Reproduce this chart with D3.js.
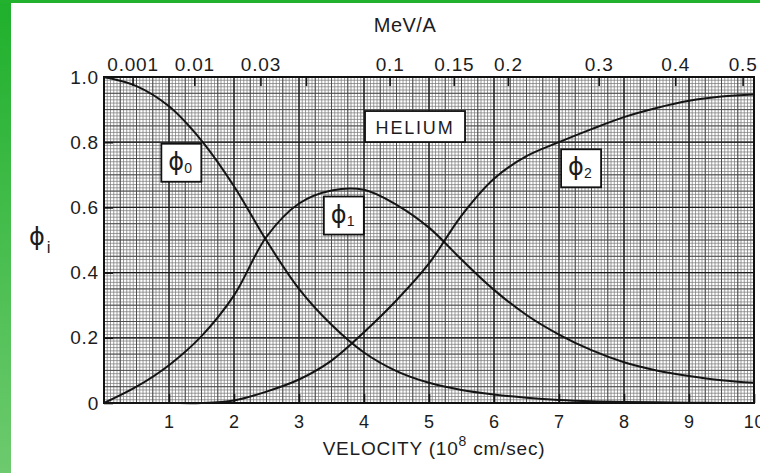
<!DOCTYPE html>
<html>
<head>
<meta charset="utf-8">
<title>Helium charge state fractions</title>
<script src="https://cdn.jsdelivr.net/npm/d3@7"></script>
<style>
    body { margin: 0; background: #fff; }
    svg text { font-family: "Liberation Sans", Arial, sans-serif; fill: #1c1c1c; }
    .axis path.domain { display: none; }
    .axis line { stroke: #151515; stroke-width: 1.6; }
    .phi { font-family: "DejaVu Sans", sans-serif; }
</style>
</head>
<body>
<script>
    // velocity in 10^8 cm/sec, fractions
    var velocity = [0, 0.5, 1, 1.5, 2, 2.5, 3, 3.5, 4, 4.5, 5, 5.5, 6, 6.5, 7, 7.5, 8, 8.5, 9, 9.5, 10];
    var phi0 = [1.0, 0.972, 0.91, 0.805, 0.665, 0.498, 0.35, 0.24, 0.155, 0.098, 0.062, 0.04, 0.026, 0.016, 0.009, 0.005, 0.003, 0.002, 0.001, 0, 0];
    var phi1 = [0, 0.05, 0.116, 0.205, 0.33, 0.51, 0.612, 0.652, 0.654, 0.608, 0.538, 0.44, 0.347, 0.27, 0.21, 0.162, 0.125, 0.1, 0.083, 0.07, 0.062];
    var phi2 = [0, 0, 0, 0, 0.008, 0.035, 0.072, 0.13, 0.217, 0.315, 0.428, 0.575, 0.688, 0.757, 0.8, 0.84, 0.877, 0.905, 0.927, 0.94, 0.946];

    var velocityTicks = [1, 2, 3, 4, 5, 6, 7, 8, 9, 10];
    var phiTicks = [0, 0.2, 0.4, 0.6, 0.8, 1.0];
    var phiTickLabels = ["0", "0.2", "0.4", "0.6", "0.8", "1.0"];
    var energyTicks = [0.001, 0.01, 0.03, 0.05, 0.1, 0.15, 0.2, 0.3, 0.4, 0.5];
    var energyTickLabels = ["0.001", "0.01", "0.03", "", "0.1", "0.15", "0.2", "0.3", "0.4", "0.5"];

    // boxed labels, anchored in data units
    var curveLabels = [
        { sub: "0", v: 1.19, phi: 0.737 },
        { sub: "1", v: 3.69, phi: 0.575 },
        { sub: "2", v: 7.34, phi: 0.72 }
    ];
    var elementLabel = { text: "HELIUM", v: 4.785, phi: 0.848 };

    // MeV per nucleon for v = 1 (10^8 cm/s)
    var k = 0.00518;

    var _width = 760, _height = 473,
        _margins = { left: 104, top: 77, right: 6, bottom: 70 };

    function xStart() { return _margins.left; }
    function xEnd() { return _width - _margins.right; }
    function yStart() { return _height - _margins.bottom; }
    function yEnd() { return _margins.top; }

    var svg = d3.select('body').append('svg')
        .attr('width', _width)
        .attr('height', _height);

    // green frame of the scan
    var grad = svg.append('defs').append('linearGradient')
        .attr('id', 'frame').attr('x1', 0).attr('y1', 0).attr('x2', 0).attr('y2', 1);
    grad.append('stop').attr('offset', '0%').attr('stop-color', '#1fb02c');
    grad.append('stop').attr('offset', '100%').attr('stop-color', '#6dca6e');
    svg.append('rect').attr('x', 0).attr('y', 0).attr('width', 11).attr('height', _height).attr('fill', 'url(#frame)');
    svg.append('rect').attr('x', 0).attr('y', 0).attr('width', _width).attr('height', 3).attr('fill', '#22b22e');

    var x = d3.scaleLinear().domain([0, 10]).range([xStart(), xEnd()]);
    var y = d3.scaleLinear().domain([0, 1]).range([yStart(), yEnd()]);
    var e = d3.scaleSqrt().domain([0, 100 * k]).range([xStart(), xEnd()]);

    // graph paper
    var paper = svg.append('g').attr('class', 'paper');
    function gridLines(cls, xs, ys, color, w) {
        var g = paper.append('g').attr('class', cls);
        g.selectAll('line.v').data(xs).enter().append('line')
            .attr('class', 'v')
            .attr('x1', function (d) { return x(d); }).attr('x2', function (d) { return x(d); })
            .attr('y1', y(0)).attr('y2', y(1))
            .attr('stroke', color).attr('stroke-width', w);
        g.selectAll('line.h').data(ys).enter().append('line')
            .attr('class', 'h')
            .attr('y1', function (d) { return y(d); }).attr('y2', function (d) { return y(d); })
            .attr('x1', x(0)).attr('x2', x(10))
            .attr('stroke', color).attr('stroke-width', w);
    }
    gridLines('fine', d3.range(0, 201).map(function (i) { return i / 20; }),
        d3.range(0, 101).map(function (i) { return i / 100; }), '#7c7c7c', 0.75);
    gridLines('medium', d3.range(0, 41).map(function (i) { return i / 4; }),
        d3.range(0, 21).map(function (i) { return i / 20; }), '#474747', 0.9);
    gridLines('major', d3.range(0, 11),
        d3.range(0, 6).map(function (i) { return i / 5; }), '#1e1e1e', 1.2);

    // axes, ticks pointing into the plot
    svg.append('g').attr('class', 'axis bottom')
        .attr('transform', 'translate(0,' + yStart() + ')')
        .call(d3.axisBottom(x).tickValues(velocityTicks).tickSize(-9).tickPadding(12).tickFormat(d3.format('d')))
        .selectAll('text').style('font-size', '18px');

    svg.append('g').attr('class', 'axis left')
        .attr('transform', 'translate(' + xStart() + ',0)')
        .call(d3.axisLeft(y).tickValues(phiTicks).tickSize(-9).tickPadding(5)
            .tickFormat(function (d, i) { return phiTickLabels[i]; }))
        .selectAll('text').style('font-size', '19px');

    svg.append('g').attr('class', 'axis top')
        .attr('transform', 'translate(0,' + yEnd() + ')')
        .call(d3.axisTop(e).tickValues(energyTicks).tickSize(-9).tickPadding(6)
            .tickFormat(function (d, i) { return energyTickLabels[i]; }))
        .selectAll('text').style('font-size', '19px');

    svg.selectAll('.axis text').attr('fill', '#1c1c1c').style('letter-spacing', '0.8px');

    // plot frame
    svg.append('rect')
        .attr('x', x(0)).attr('y', y(1))
        .attr('width', x(10) - x(0)).attr('height', y(0) - y(1))
        .attr('fill', 'none').attr('stroke', '#111').attr('stroke-width', 2);

    // curves
    var series = [phi0, phi1, phi2];
    var line = d3.line()
        .x(function (d) { return x(d[0]); })
        .y(function (d) { return y(d[1]); })
        .curve(d3.curveCatmullRom.alpha(0.5));

    svg.selectAll('path.line')
        .data(series)
        .enter()
        .append('path')
        .attr('class', 'line')
        .attr('fill', 'none')
        .attr('stroke', '#141414')
        .attr('stroke-width', 2)
        .attr('d', function (s) {
            return line(velocity.map(function (v, i) { return [v, s[i]]; }));
        });

    // boxed curve labels
    var lab = svg.selectAll('g.curve-label')
        .data(curveLabels)
        .enter()
        .append('g')
        .attr('class', 'curve-label')
        .attr('transform', function (d) { return 'translate(' + x(d.v) + ',' + y(d.phi) + ')'; });
    lab.append('rect')
        .attr('x', -20).attr('y', -19).attr('width', 40).attr('height', 38)
        .attr('fill', '#fff').attr('stroke', '#111').attr('stroke-width', 1.8);
    var lt = lab.append('text').attr('x', -13).attr('y', 7);
    lt.append('tspan').attr('class', 'phi').style('font-size', '24px').text('ϕ');
    lt.append('tspan').attr('dy', 3).style('font-size', '14px').text(function (d) { return d.sub; });

    var hel = svg.append('g')
        .attr('transform', 'translate(' + x(elementLabel.v) + ',' + y(elementLabel.phi) + ')');
    hel.append('rect')
        .attr('x', -50).attr('y', -15.5).attr('width', 100).attr('height', 31)
        .attr('fill', '#fff').attr('stroke', '#111').attr('stroke-width', 1.8);
    hel.append('text')
        .attr('text-anchor', 'middle').attr('y', 7)
        .style('font-size', '18px').style('letter-spacing', '1.8px')
        .text(elementLabel.text);

    // axis titles
    svg.append('text')
        .attr('x', 405).attr('y', 32).attr('text-anchor', 'middle')
        .style('font-size', '20px').style('letter-spacing', '0.5px')
        .text('MeV/A');

    var vt = svg.append('text')
        .attr('x', 434).attr('y', 455).attr('text-anchor', 'middle')
        .style('font-size', '19px').style('letter-spacing', '0.8px');
    vt.append('tspan').text('VELOCITY  (10');
    vt.append('tspan').attr('dy', -9).style('font-size', '14px').text('8');
    vt.append('tspan').attr('dy', 9).text(' cm/sec)');

    var yt = svg.append('text').attr('x', 29).attr('y', 245);
    yt.append('tspan').attr('class', 'phi').style('font-size', '24px').text('ϕ');
    yt.append('tspan').attr('dx', 2).attr('dy', 8).style('font-size', '17px').text('i');
</script>
</body>
</html>
